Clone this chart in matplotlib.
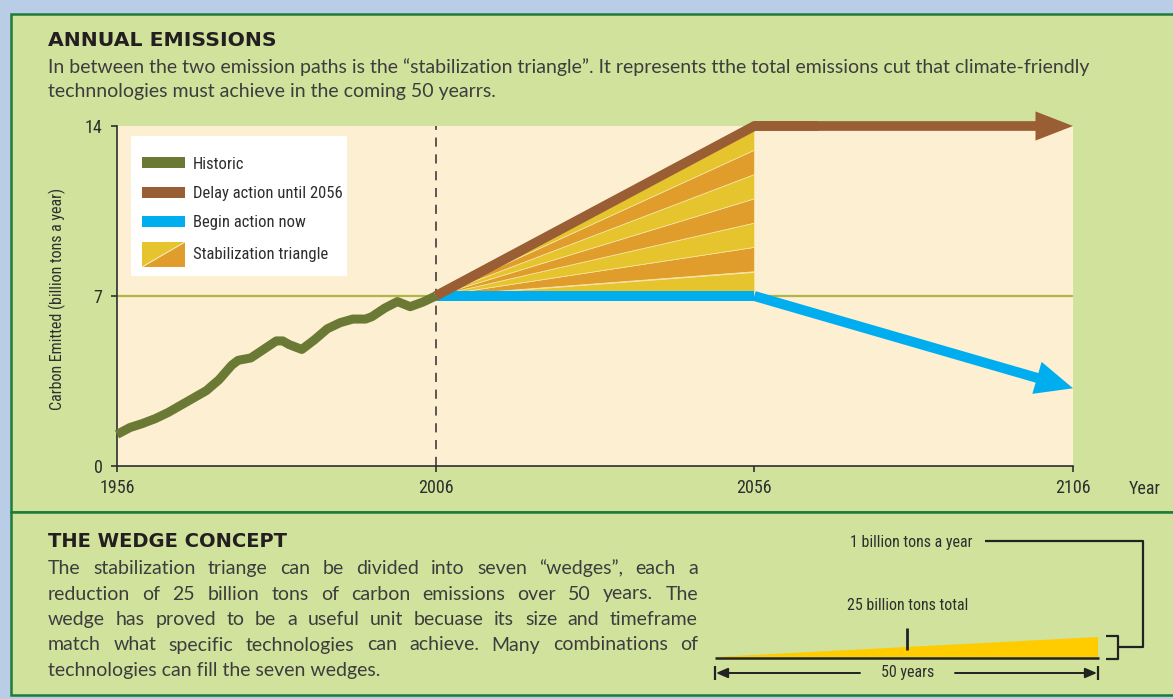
import numpy as np
import matplotlib.pyplot as plt
from matplotlib.patches import Rectangle, Polygon, FancyArrowPatch
from matplotlib.lines import Line2D

# historic emissions, billion tons of carbon a year
hist_years = [1956, 1958, 1960, 1962, 1964, 1966, 1968, 1970, 1972, 1974, 1975, 1977,
              1979, 1981, 1982, 1983, 1985, 1987, 1989, 1991, 1993, 1995, 1996, 1998,
              2000, 2002, 2004, 2006]
hist_vals = [1.3, 1.58, 1.75, 1.95, 2.2, 2.5, 2.8, 3.1, 3.55, 4.15, 4.35, 4.45,
             4.8, 5.15, 5.15, 5.0, 4.8, 5.2, 5.65, 5.9, 6.05, 6.05, 6.15, 6.5,
             6.77, 6.56, 6.75, 7.0]

# the two future paths
delay_years = [2006, 2056, 2106]
delay_vals = [7, 14, 14]
now_years = [2006, 2056, 2106]
now_vals = [7, 7, 3.2]

# seven wedges between the paths, edges at 2056
wedge_edges = [7, 8, 9, 10, 11, 12, 13, 14]

xticks = [1956, 2006, 2056, 2106]
yticks = [0, 7, 14]
legend_labels = ['Historic', 'Delay action until 2056', 'Begin action now', 'Stabilization triangle']

# one wedge: 0 -> 1 billion tons a year over 50 years
one_wedge_years = [0, 50]
one_wedge_rate = [0, 1]

# colours
BLUE_BG = '#b9cde6'
GREEN_BG = '#d1e29d'
BORDER = '#1c7c3c'
CREAM = '#fdefd1'
OLIVE = '#6a7a35'
BROWN = '#9a5e35'
CYAN = '#00aeef'
YELLOW = '#e6c42e'
ORANGE = '#e09d2c'
REFLINE = '#b2b548'
DARK = '#2e2e2e'
GREY_TXT = '#3d3d3d'

NARROW = ['Liberation Sans Narrow', 'DejaVu Sans Condensed', 'Roboto Condensed', 'Roboto']
BODY = ['Lato', 'DejaVu Sans']
HEAD = ['DejaVu Sans']

W, H = 1173, 699


def fx(x):
    return x / W


def fy(y):
    return 1 - y / H


fig = plt.figure(figsize=(W / 100, H / 100), dpi=100)
fig.patch.set_facecolor(BLUE_BG)

# panels
fig.patches.append(Rectangle((fx(11), fy(512)), 1.1, (512 - 14) / H, transform=fig.transFigure,
                             fc=GREEN_BG, ec=BORDER, lw=1.8, zorder=-5))
fig.patches.append(Rectangle((fx(11), fy(695)), 1.1, (695 - 512) / H, transform=fig.transFigure,
                             fc=GREEN_BG, ec=BORDER, lw=1.8, zorder=-5))

# header texts
fig.text(fx(48), fy(46), 'ANNUAL EMISSIONS', fontsize=14.7, fontweight='bold', family=HEAD,
         color='#231f20', va='baseline')
fig.text(fx(48), fy(73), 'In between the two emission paths is the \u201cstabilization triangle\u201d. '
         'It represents tthe total emissions cut that climate-friendly',
         fontsize=14, family=BODY, color=GREY_TXT, va='baseline')
fig.text(fx(48), fy(97), 'technnologies must achieve in the coming 50 yearrs.',
         fontsize=14, family=BODY, color=GREY_TXT, va='baseline')

# main chart
ax = fig.add_axes([fx(117), fy(466), (1073 - 117) / W, (466 - 126) / H])
ax.set_facecolor(CREAM)
ax.set_xlim(1956, 2106)
ax.set_ylim(0, 14)
for s in ['top', 'right']:
    ax.spines[s].set_visible(False)
for s in ['left', 'bottom']:
    ax.spines[s].set_color(DARK)
    ax.spines[s].set_linewidth(1.2)
ax.set_xticks(xticks)
ax.set_yticks(yticks)
ax.tick_params(length=4.5, width=1.2, color=DARK, labelcolor=DARK, labelsize=13)
ax.tick_params(axis='y', pad=6)
ax.tick_params(axis='x', pad=5)
for lab in ax.get_xticklabels() + ax.get_yticklabels():
    lab.set_family(NARROW)

ax.axhline(7, color=REFLINE, lw=1.6, zorder=1)
ax.axvline(2006, color=DARK, lw=1.1, dashes=(6, 5), zorder=1.5)

# stabilization wedges
for i in range(len(wedge_edges) - 1):
    ax.fill([now_years[0], now_years[1], now_years[1]],
            [now_vals[0], wedge_edges[i], wedge_edges[i + 1]],
            fc=YELLOW if i % 2 == 0 else ORANGE, ec='#f6e7a8', lw=0.5, zorder=2)

ax.plot(hist_years, hist_vals, color=OLIVE, lw=6.5, solid_capstyle='butt',
        solid_joinstyle='round', zorder=4, clip_on=False)

# delay path with arrow
ax.plot([delay_years[0], delay_years[1], delay_years[1] + 10],
        [delay_vals[0], delay_vals[1], delay_vals[1]],
        color=BROWN, lw=7, solid_joinstyle='miter', solid_capstyle='butt', zorder=3.5, clip_on=False)
ax.add_patch(FancyArrowPatch((delay_years[1], delay_vals[1]), (delay_years[2], delay_vals[2]),
                             arrowstyle='simple,head_length=27,head_width=21,tail_width=7',
                             mutation_scale=1, shrinkA=0, shrinkB=0, color=BROWN, lw=0,
                             zorder=3.5, clip_on=False))

# begin-now path with arrow
ax.plot(now_years[:2], now_vals[:2], color=CYAN, lw=7.2, solid_capstyle='butt', zorder=3)
ax.add_patch(FancyArrowPatch((now_years[1], now_vals[1]), (now_years[2], now_vals[2]),
                             arrowstyle='simple,head_length=27,head_width=24,tail_width=7.2',
                             mutation_scale=1, shrinkA=0, shrinkB=0, color=CYAN, lw=0,
                             zorder=3, clip_on=False))

fig.text(fx(57), fy(299), 'Carbon Emitted (billion tons a year)', rotation=90, ha='center',
         va='center', family=NARROW, fontsize=11.5, color=DARK)
fig.text(fx(1145), fy(489), 'Year', ha='center', va='center', family=NARROW, fontsize=13,
         color=DARK)

# legend
fig.patches.append(Rectangle((fx(131), fy(276)), 216 / W, 140 / H, transform=fig.transFigure,
                             fc='white', ec='none', zorder=5))
leg_cols = [OLIVE, BROWN, CYAN]
leg_y = [162, 193, 221]
for c, yy in zip(leg_cols, leg_y):
    fig.patches.append(Rectangle((fx(142), fy(yy + 5.5)), 43 / W, 11 / H, transform=fig.transFigure,
                                 fc=c, ec='none', zorder=6))
fig.patches.append(Polygon([(fx(142), fy(242)), (fx(185), fy(242)), (fx(142), fy(267))],
                           closed=True, transform=fig.transFigure, fc=YELLOW, ec='none', zorder=6))
fig.patches.append(Polygon([(fx(185), fy(242)), (fx(185), fy(267)), (fx(142), fy(267))],
                           closed=True, transform=fig.transFigure, fc=ORANGE, ec='none', zorder=6))
fig.lines.append(Line2D([fx(142), fx(185)], [fy(267), fy(242)], transform=fig.transFigure,
                        color='#fbf0c8', lw=0.7, zorder=7))
for lab, yy in zip(legend_labels, [169, 198, 227, 259]):
    fig.text(fx(193), fy(yy), lab, family=NARROW, fontsize=12, color=DARK, va='baseline', zorder=8)

# bottom panel
fig.text(fx(48), fy(547), 'THE WEDGE CONCEPT', fontsize=14, fontweight='bold', family=HEAD,
         color='#231f20', va='baseline')

para = ['The stabilization triange can be divided into seven \u201cwedges\u201d, each a',
        'reduction of 25 billion tons of carbon emissions over 50 years. The',
        'wedge has proved to be a useful unit becuase its size and timeframe',
        'match what specific technologies can achieve. Many combinations of',
        'technologies can fill the seven wedges.']
renderer = fig.canvas.get_renderer()
kw = dict(fontsize=14, family=BODY, color=GREY_TXT, va='baseline')
x0, x1 = 48, 698
for i, line in enumerate(para):
    yb = fy(574 + i * 25.5)
    if i == len(para) - 1:
        fig.text(fx(x0), yb, line, **kw)
        continue
    words = line.split()
    widths = []
    for w in words:
        t = fig.text(0, 0, w, **kw)
        widths.append(t.get_window_extent(renderer).width)
        t.remove()
    gap = (x1 - x0 - sum(widths)) / (len(words) - 1)
    x = x0
    for w, wd in zip(words, widths):
        fig.text(fx(x), yb, w, **kw)
        x += wd + gap

# single wedge diagram
ax2 = fig.add_axes([fx(715), fy(657), (1098 - 715) / W, 20 / H])
ax2.set_xlim(0, 50)
ax2.set_ylim(0, 1)
ax2.axis('off')
ax2.fill([one_wedge_years[0], one_wedge_years[1], one_wedge_years[1]],
         [one_wedge_rate[0], one_wedge_rate[0], one_wedge_rate[1]], fc='#ffcc00', ec='none')


def fline(xs, ys, lw=1.6):
    fig.lines.append(Line2D([fx(v) for v in xs], [fy(v) for v in ys], transform=fig.transFigure,
                            color='#222222', lw=lw, solid_capstyle='butt', zorder=6))


fline([715, 1099], [657.5, 657.5], lw=1.8)
fline([907, 907], [628, 650], lw=2)
fline([985, 1143, 1143, 1118], [541, 541, 647, 647])
fline([1106, 1118, 1118, 1106], [636, 636, 659, 659])
fline([715, 715], [666, 680])
fline([1098, 1098], [666, 680])
for xa, xb in [(860, 716), (955, 1097)]:
    fig.patches.append(FancyArrowPatch((fx(xa), fy(673)), (fx(xb), fy(673)), transform=fig.transFigure,
                                       arrowstyle='-|>,head_length=7,head_width=3', mutation_scale=1,
                                       shrinkA=0, shrinkB=0, color='#222222', lw=1.4, zorder=6))

fig.text(fx(972), fy(542), '1 billion tons a year', ha='right', va='center', family=NARROW,
         fontsize=11.5, color=DARK)
fig.text(fx(908), fy(606), '25 billion tons total', ha='center', va='center', family=NARROW,
         fontsize=11.5, color=DARK)
fig.text(fx(908), fy(673), '50 years', ha='center', va='center', family=NARROW,
         fontsize=11.5, color=DARK)

fig.savefig('out.png', dpi=100, facecolor=fig.get_facecolor())
